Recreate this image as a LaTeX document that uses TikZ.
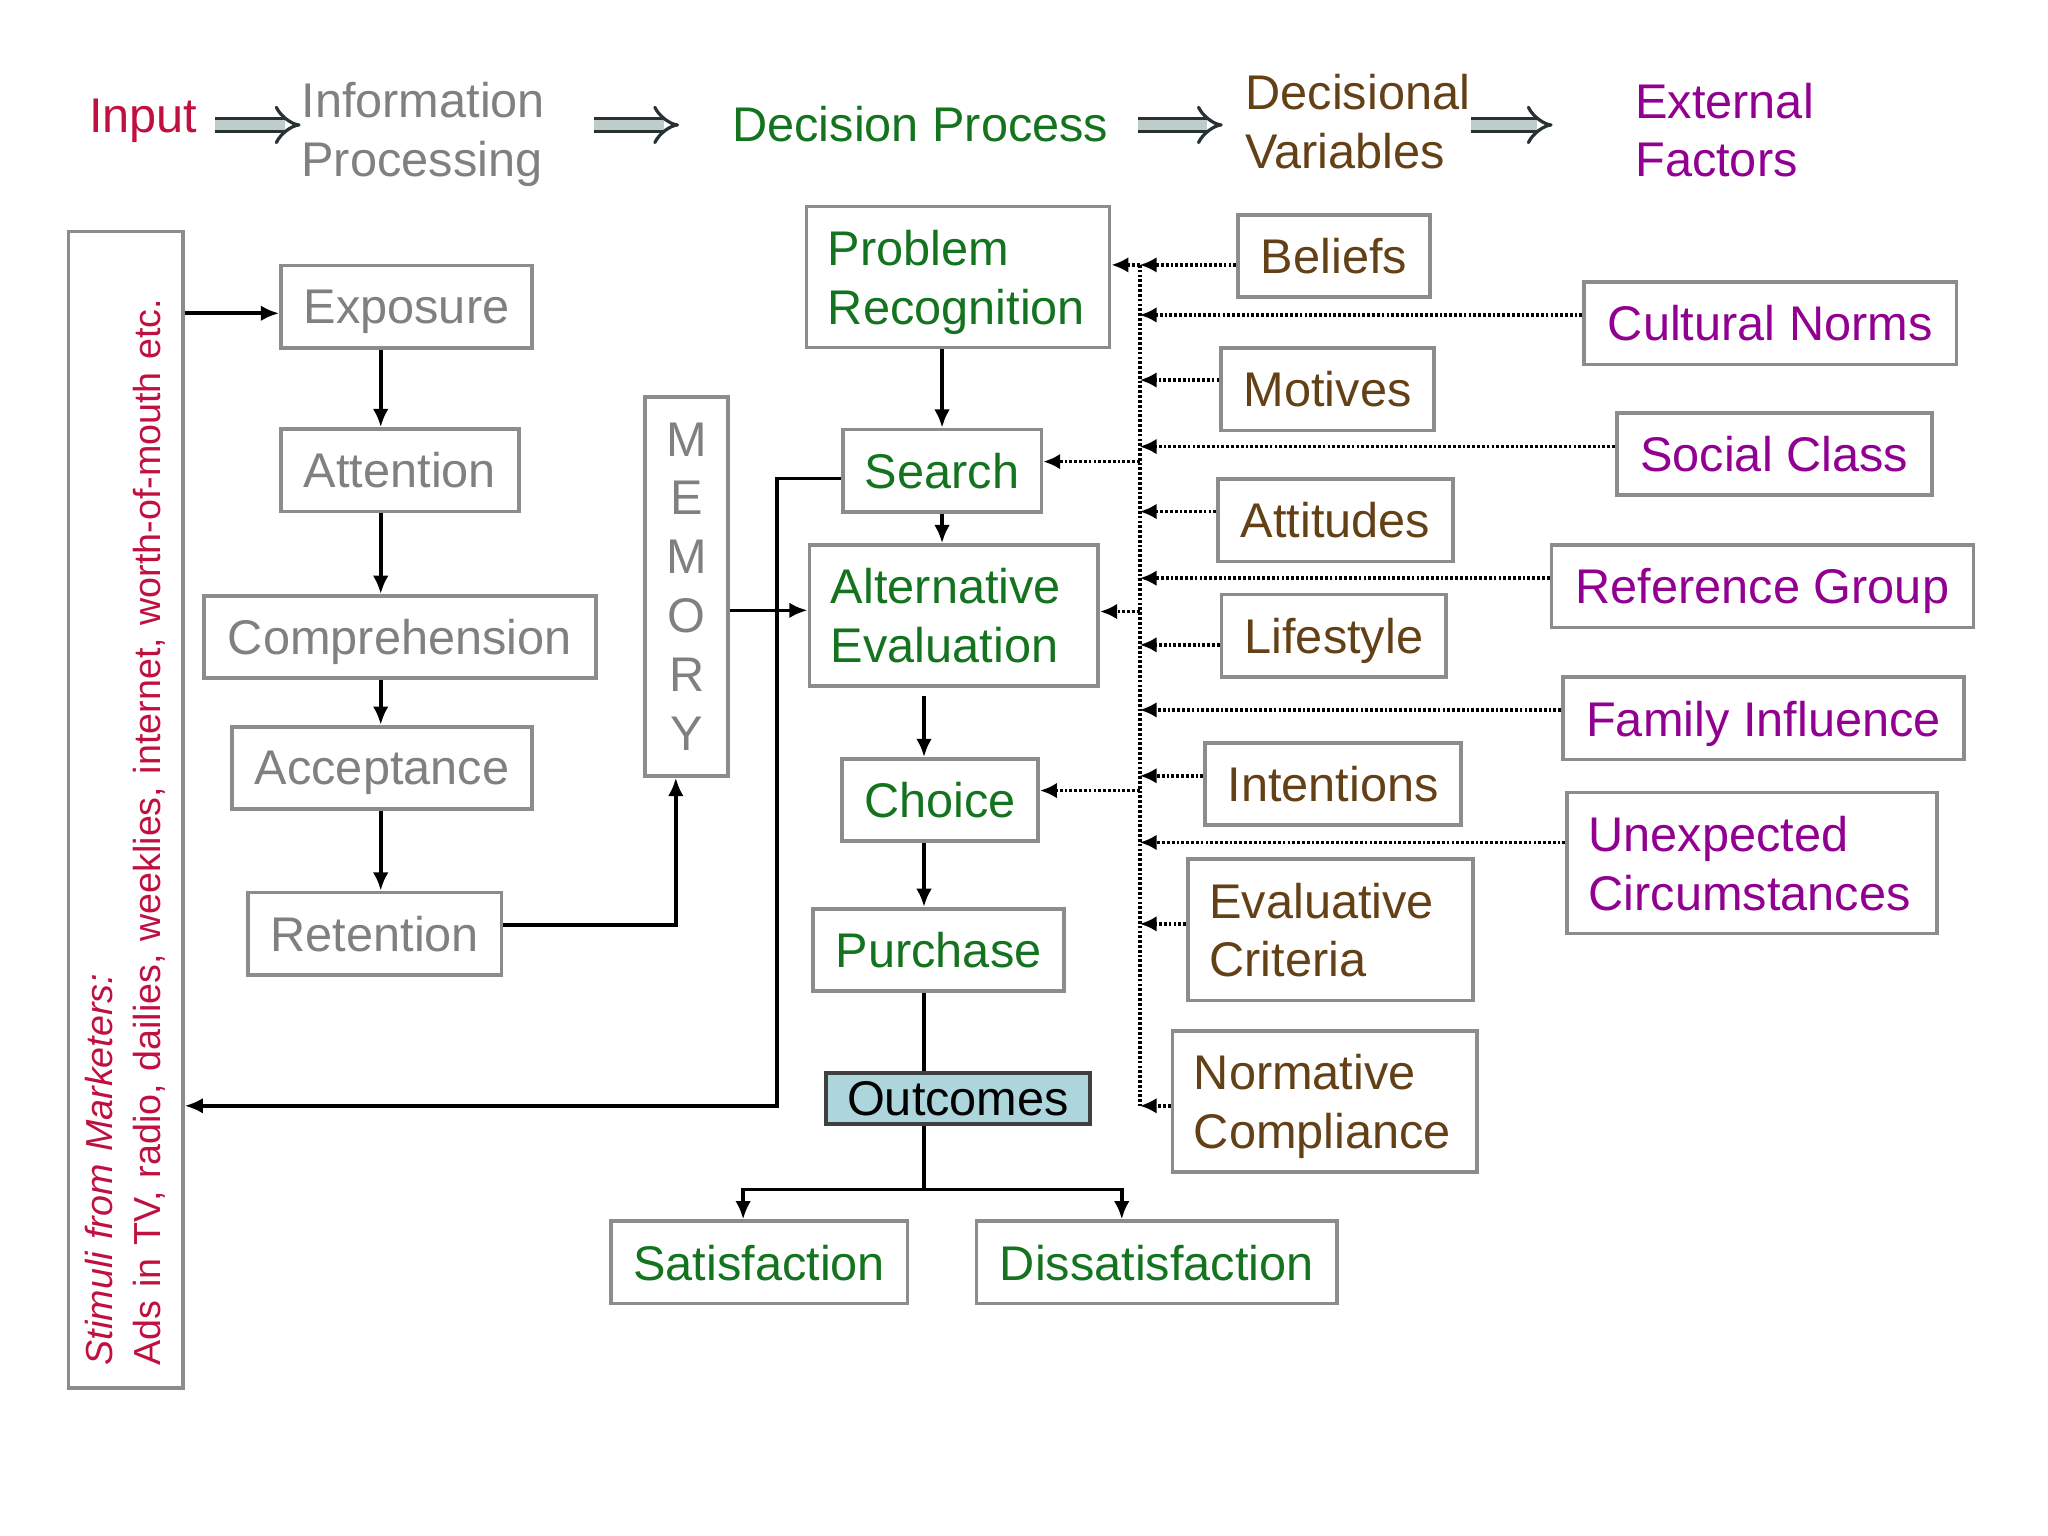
\documentclass[tikz,border=0pt]{standalone}
\usepackage{fontspec}
\setmainfont{Liberation Sans}
\usepackage{tikz}
\usetikzlibrary{arrows.meta}
\definecolor{inred}{RGB}{192,16,64}
\definecolor{ipgray}{RGB}{128,128,128}
\definecolor{dpgreen}{RGB}{20,115,30}
\definecolor{dvbrown}{RGB}{100,64,22}
\definecolor{efpurple}{RGB}{145,0,145}
\definecolor{boxgray}{RGB}{140,140,140}
\definecolor{outfill}{RGB}{172,214,220}
\definecolor{hdfill}{RGB}{190,204,202}
\definecolor{hdline}{RGB}{40,50,50}

\begin{document}
\begin{tikzpicture}[
		font=\fontsize{10.6}{12.8}\selectfont,
		box/.style={draw=boxgray, line width=0.8pt, minimum height=0.63cm, inner sep=0pt, text depth=0pt},
		ipbox/.style={box, text=ipgray},
		dpbox/.style={box, text=dpgreen},
		dvbox/.style={box, text=dvbrown},
		efbox/.style={box, text=efpurple},
		twoline/.style={minimum height=1.08cm, align=left, inner xsep=0.165cm, text width=#1, text depth=12.8pt},
		hd/.style={anchor=west, inner sep=0pt, align=left},
		arr/.style={line width=0.8pt, -{Latex[length=1.4mm,width=1.2mm]}},
		dotline/.style={line width=0.8pt, dash pattern=on 0.6pt off 0.45pt},
		dotarr/.style={dotline, -{Latex[length=1.3mm,width=1.2mm]}},
		hdarr/.style={draw=hdline, line width=0.7pt, double=hdfill, double distance=2.2pt, -{Implies}}
	]
			\useasboundingbox (0,0) rectangle (15.67,-11.75);

			% header row
			\node[hd, text=inred] (hdInput) at (0.675,-0.923) {Input};
			\node[hd, text=ipgray] (hdInfo) at (2.30,-1.03) {Information\\Processing};
			\node[hd, text=dpgreen] (hdDec) at (5.596,-0.948) {Decision Process};
			\node[hd, text=dvbrown] (hdVar) at (9.523,-0.93) {Decisional\\Variables};
			\node[hd, text=efpurple] (hdExt) at (12.505,-0.996) {External\\Factors};
			\coordinate (hdrow) at (0,-0.956);
			\draw[hdarr, shorten <=1.3mm] (hdInput.east |- hdrow) -- (hdInfo.west |- hdrow);
			\draw[hdarr, shorten <=3.65mm, shorten >=4mm] (hdInfo.east |- hdrow) -- (hdDec.west |- hdrow);
			\draw[hdarr, shorten <=2.2mm, shorten >=1.67mm] (hdDec.east |- hdrow) -- (hdVar.west |- hdrow);
			\draw[hdarr, shorten >=6.25mm] (hdVar.east |- hdrow) -- (hdExt.west |- hdrow);

			% stimuli
			\node[box, minimum width=0.874cm, minimum height=8.846cm] (stim) at (0.962,-6.195) {};
			\node[rotate=90, text=inred, align=left, text width=8.5cm, inner sep=0pt, font=\fontsize{8.2}{10.5}\selectfont] (stimtxt) at (0.96,-6.195) {\textit{Stimuli from Marketers:}\\Ads in TV, radio, dailies, weeklies, internet, worth-of-mouth etc.};

			% information processing
			\node[ipbox, minimum width=1.92cm] (exposure) at (3.11,-2.346) {Exposure};
			\node[ipbox, minimum width=1.82cm] (attention) at (3.06,-3.598) {Attention};
			\node[ipbox, minimum width=3.00cm] (comprehension) at (3.059,-4.874) {Comprehension};
			\node[ipbox, minimum width=2.30cm] (acceptance) at (2.923,-5.875) {Acceptance};
			\node[ipbox, minimum width=1.94cm] (retention) at (2.868,-7.144) {Retention};
			\node[ipbox, minimum width=0.635cm, minimum height=2.90cm, align=center, text depth=] (memory) at (5.255,-4.487) {M\\E\\M\\O\\R\\Y};

			% decision process
			\node[dpbox, twoline=1.99cm] (probrec) at (7.33,-2.12) {Problem\\Recognition};
			\node[dpbox, minimum width=1.52cm] (search) at (7.208,-3.602) {Search};
			\node[dpbox, twoline=1.88cm] (alteval) at (7.298,-4.711) {Alternative\\Evaluation};
			\node[dpbox, minimum width=1.50cm] (choice) at (7.193,-6.122) {Choice};
			\node[dpbox, minimum width=1.92cm] (purchase) at (7.182,-7.269) {Purchase};
			\node[draw=black!75, fill=outfill, line width=0.8pt, minimum width=2.02cm, minimum height=0.39cm, inner sep=0pt] (outcomes) at (7.33,-8.406) {Outcomes};
			\node[dpbox, minimum width=2.27cm] (satis) at (5.809,-9.659) {Satisfaction};
			\node[dpbox, minimum width=2.76cm] (dissat) at (8.851,-9.659) {Dissatisfaction};

			% decisional variables
			\node[dvbox, minimum width=1.47cm] (beliefs) at (10.207,-1.96) {Beliefs};
			\node[dvbox, minimum width=1.63cm] (motives) at (10.158,-2.978) {Motives};
			\node[dvbox, minimum width=1.80cm] (attitudes) at (10.219,-3.98) {Attitudes};
			\node[dvbox, minimum width=1.72cm] (lifestyle) at (10.206,-4.864) {Lifestyle};
			\node[dvbox, minimum width=1.96cm] (intentions) at (10.2,-5.999) {Intentions};
			\node[dvbox, twoline=1.85cm] (evalcrit) at (10.178,-7.115) {Evaluative\\Criteria};
			\node[dvbox, twoline=2.00cm] (normcomp) at (10.135,-8.428) {Normative\\Compliance};

			% external factors
			\node[efbox, minimum width=2.85cm] (cultural) at (13.545,-2.474) {Cultural Norms};
			\node[efbox, minimum width=2.41cm] (social) at (13.575,-3.473) {Social Class};
			\node[efbox, minimum width=3.23cm] (refgroup) at (13.485,-4.485) {Reference Group};
			\node[efbox, minimum width=3.07cm] (family) at (13.493,-5.497) {Family Influence};
			\node[efbox, twoline=2.50cm] (unexpected) at (13.405,-6.603) {Unexpected\\Circumstances};

			% information processing arrows
			\coordinate (ipx) at (2.913,0);
			\draw[arr] ([yshift=-0.51mm]exposure.west -| stim.east) -- ([yshift=-0.51mm]exposure.west);
			\draw[arr] (exposure.south -| ipx) -- (attention.north -| ipx);
			\draw[arr] (attention.south -| ipx) -- (comprehension.north -| ipx);
			\draw[arr] (comprehension.south -| ipx) -- (acceptance.north -| ipx);
			\draw[arr] (acceptance.south -| ipx) -- (retention.north -| ipx);
			\draw[arr] ([yshift=0.68mm]retention.east) -| ([xshift=-0.84mm]memory.south);
			\draw[arr] ([yshift=0.41mm]alteval.west -| memory.east) -- ([yshift=0.41mm]alteval.west);

			% decision process arrows
			\coordinate (dpx) at (7.07,0);
			\draw[arr] (probrec.south -| search.north) -- (search.north);
			\draw[arr] (search.south) -- (search.south |- alteval.north);
			\draw[arr] ([yshift=-0.6mm]alteval.south -| dpx) -- (choice.north -| dpx);
			\draw[arr] (choice.south -| dpx) -- (purchase.north -| dpx);
			\draw[line width=0.8pt] (purchase.south -| dpx) -- (outcomes.north -| dpx);
			\draw[line width=0.8pt] (outcomes.south -| dpx) -- ++(0,-0.487) coordinate (split);
			\draw[arr] (split) -| ([xshift=-1.23mm]satis.north);
			\draw[arr] (split) -| ([xshift=-2.68mm]dissat.north);
			\coordinate (fbk) at (5.946,-8.461);
			\draw[arr] ([yshift=-0.58mm]search.west) -| (fbk) -- (fbk -| stim.east);

			% dotted bus
			\coordinate (busTop) at (8.72,-2.027);
			\coordinate (busBot) at (8.72,-8.461);
			\draw[dotline] (busTop) -- (busBot);
			\draw[dotarr] (busTop) -- (busTop -| probrec.east);
			\draw[dotarr] ([yshift=0.7mm]search.east -| busTop) -- ([yshift=0.7mm]search.east);
			\draw[dotarr] ([yshift=0.32mm]alteval.east -| busTop) -- ([yshift=0.32mm]alteval.east);
			\draw[dotarr] ([yshift=0.73mm]choice.east -| busTop) -- ([yshift=0.73mm]choice.east);

			% decisional variables into bus
			\draw[dotarr] ([yshift=-0.67mm]beliefs.west) -- ([yshift=-0.67mm]beliefs.west -| busTop);
			\draw[dotarr] ([yshift=0.7mm]motives.west) -- ([yshift=0.7mm]motives.west -| busTop);
			\draw[dotarr] ([yshift=0.66mm]attitudes.west) -- ([yshift=0.66mm]attitudes.west -| busTop);
			\draw[dotarr] ([yshift=-0.7mm]lifestyle.west) -- ([yshift=-0.7mm]lifestyle.west -| busTop);
			\draw[dotarr] ([yshift=0.63mm]intentions.west) -- ([yshift=0.63mm]intentions.west -| busTop);
			\draw[dotarr] ([yshift=0.46mm]evalcrit.west) -- ([yshift=0.46mm]evalcrit.west -| busTop);
			\draw[dotarr] ([yshift=-0.33mm]normcomp.west) -- ([yshift=-0.33mm]normcomp.west -| busTop);

			% external factors into bus
			\draw[dotarr] ([yshift=0.64mm]cultural.west) -- ([yshift=0.64mm]cultural.west -| busTop);
			\draw[dotarr] ([yshift=0.56mm]social.west) -- ([yshift=0.56mm]social.west -| busTop);
			\draw[dotarr] ([yshift=0.61mm]refgroup.west) -- ([yshift=0.61mm]refgroup.west -| busTop);
			\draw[dotarr] ([yshift=0.65mm]family.west) -- ([yshift=0.65mm]family.west -| busTop);
			\draw[dotarr] ([yshift=1.57mm]unexpected.west) -- ([yshift=1.57mm]unexpected.west -| busTop);
		\end{tikzpicture}
\end{document}
